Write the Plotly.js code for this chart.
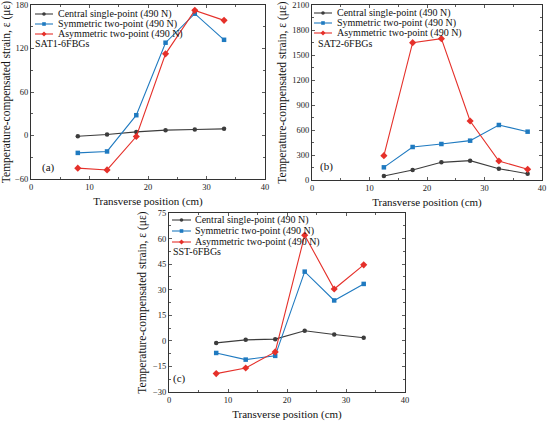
<!DOCTYPE html>
<html><head><meta charset="utf-8">
<script src="https://cdn.plot.ly/plotly-3.0.1.min.js"></script>
<style>html,body{margin:0;padding:0;background:#fff}#c{width:550px;height:425px}</style>
</head><body><div id="c"></div>
<script>
// ---- data ----
const seriesNames = ["Central single-point (490 N)", "Symmetric two-point (490 N)", "Asymmetric two-point (490 N)"];
const xA = [8, 13, 18, 23, 28, 33];
const centralA = [-1, 1.4, 5, 7.4, 8.3, 9.2];
const symmetricA = [-24, -22, 28, 128, 168, 132];
const asymmetricA = [-45, -47.5, -1.4, 112.6, 172.6, 158.8];

const xB = [12.5, 17.5, 22.5, 27.5, 32.5, 37.5];
const centralB = [48, 120, 212, 232, 136, 76];
const symmetricB = [152, 396, 432, 472, 660, 580];
const asymmetricB = [292, 1648, 1696, 708, 228, 128];

const xC = [8, 13, 18, 23, 28, 33];
const centralC = [-1.2, 0.6, 1, 5.9, 3.7, 1.8];
const symmetricC = [-7.1, -11, -8.8, 40.6, 23.7, 33.4];
const asymmetricC = [-19.2, -15.9, -6.5, 62, 30.4, 44.6];

const panelLabels = ["(a)", "(b)", "(c)"];
const specimenLabels = ["SAT1-6FBGs", "SAT2-6FBGs", "SST-6FBGs"];
const xTitle = "Transverse position (cm)";
const yTitle = "Temperature-compensated strain, ε (με)";

// ---- styles ----
const colors = ["#3c3c3c", "#1f7ac0", "#e5302a"];
const symbols = ["circle", "square", "diamond"];
const FONT = "Liberation Serif";
const W = 550, H = 425;
const px = x => x / W, py = y => 1 - y / H;

const panels = [
  {x: xA, ys: [centralA, symmetricA, asymmetricA], xa: "x", ya: "y",
   dom: [31, 265, 5, 179], yr: [-60, 180], dt: 60, leg: {x0: 35, x1: 53, tx: 56, y: [14, 24, 34]},
   lab: [40, 167], spec: [33, 44]},
  {x: xB, ys: [centralB, symmetricB, asymmetricB], xa: "x2", ya: "y2",
   dom: [312, 542, 5, 180], yr: [0, 2100], dt: 300, leg: {x0: 314, x1: 332, tx: 335, y: [13, 23, 33]},
   lab: [318, 166], spec: [316, 44]},
  {x: xC, ys: [centralC, symmetricC, asymmetricC], xa: "x3", ya: "y3",
   dom: [169, 405, 213, 392], yr: [-30, 75], dt: 15, leg: {x0: 172, x1: 191, tx: 193, y: [220, 231, 242]},
   lab: [171, 378], spec: [171, 252]}
];

const traces = [], shapes = [], annotations = [];
const layout = {
  width: W, height: H, margin: {l: 0, r: 0, t: 0, b: 0},
  paper_bgcolor: "#fff", plot_bgcolor: "#fff", showlegend: false,
  font: {family: FONT, color: "#000", size: 8}
};

panels.forEach((p, i) => {
  const n = i === 0 ? "" : String(i + 1);
  p.ys.forEach((ys, k) => {
    traces.push({x: p.x, y: ys, xaxis: p.xa, yaxis: p.ya, type: "scatter", mode: "lines+markers",
      name: seriesNames[k], line: {color: colors[k], width: 1.1},
      marker: {color: colors[k], symbol: symbols[k], size: k === 2 ? 5.5 : 4.5}});
  });
  const common = {showline: true, linecolor: "#333", linewidth: 1, mirror: "allticks",
    ticks: "inside", ticklen: 3, tickwidth: 0.8, tickcolor: "#333", showgrid: false, zeroline: false,
    ticklabeloverflow: "allow",
    tickfont: {family: FONT, size: 8.5, color: "#222"}};
  layout["xaxis" + n] = Object.assign({}, common, {
    domain: [px(p.dom[0]), px(p.dom[1])], anchor: p.ya, range: [0, 40], dtick: 10, tick0: 0,
    minor: {dtick: 5, ticks: "inside", ticklen: 2, tickcolor: "#333"},
    title: {text: xTitle, font: {family: FONT, size: 11, color: "#111"}, standoff: 6}});
  layout["yaxis" + n] = Object.assign({}, common, {
    domain: [py(p.dom[3]), py(p.dom[2])], anchor: p.xa, range: p.yr, dtick: p.dt, tick0: 0,
    minor: {dtick: p.dt / 2, ticks: "inside", ticklen: 2, tickcolor: "#333"},
    title: {text: yTitle, font: {family: FONT, size: 11.5, color: "#111"}, standoff: 3}});
  p.leg.y.forEach((yy, k) => {
    shapes.push({type: "line", xref: "paper", yref: "paper", x0: px(p.leg.x0), x1: px(p.leg.x1),
      y0: py(yy), y1: py(yy), line: {color: colors[k], width: 1.1}});
    const cx = (p.leg.x0 + p.leg.x1) / 2, r = 1.8;
    if (k === 0) shapes.push({type: "circle", xref: "paper", yref: "paper", x0: px(cx - r), x1: px(cx + r),
      y0: py(yy + r), y1: py(yy - r), fillcolor: colors[k], line: {width: 0}});
    else if (k === 1) shapes.push({type: "rect", xref: "paper", yref: "paper", x0: px(cx - r), x1: px(cx + r),
      y0: py(yy + r), y1: py(yy - r), fillcolor: colors[k], line: {width: 0}});
    else shapes.push({type: "path", xref: "paper", yref: "paper",
      path: `M${px(cx)},${py(yy - 2.5)} L${px(cx + 2.5)},${py(yy)} L${px(cx)},${py(yy + 2.5)} L${px(cx - 2.5)},${py(yy)} Z`,
      fillcolor: colors[k], line: {width: 0}});
    annotations.push({xref: "paper", yref: "paper", x: px(p.leg.tx), y: py(yy), xanchor: "left", yanchor: "middle",
      text: seriesNames[k], showarrow: false, font: {family: FONT, size: 10, color: "#111"}});
  });
  annotations.push({xref: "paper", yref: "paper", x: px(p.spec[0]), y: py(p.spec[1]), xanchor: "left", yanchor: "middle",
    text: specimenLabels[i], showarrow: false, font: {family: FONT, size: 10, color: "#111"}});
  annotations.push({xref: "paper", yref: "paper", x: px(p.lab[0]), y: py(p.lab[1]), xanchor: "left", yanchor: "middle",
    text: panelLabels[i], showarrow: false, font: {family: FONT, size: 11, color: "#111"}});
});
layout.shapes = shapes;
layout.annotations = annotations;
Plotly.newPlot("c", traces, layout, {staticPlot: true, displayModeBar: false});
</script></body></html>
